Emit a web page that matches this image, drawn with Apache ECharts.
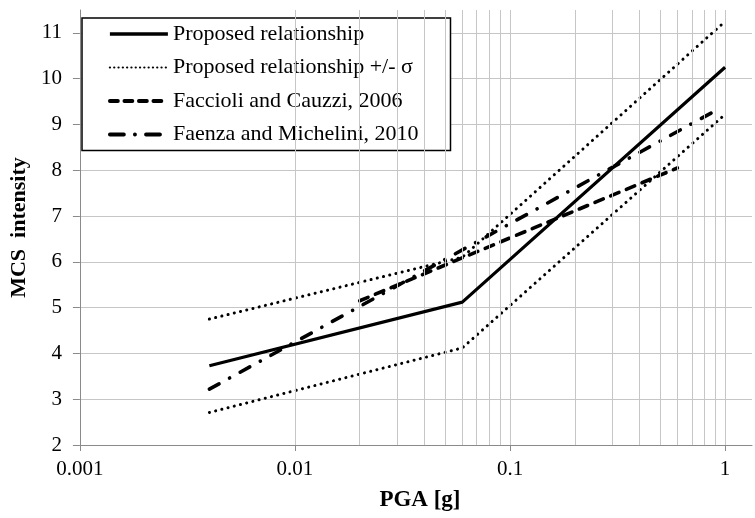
<!DOCTYPE html>
<html>
<head>
<meta charset="utf-8">
<script src="https://cdn.jsdelivr.net/npm/echarts@6/dist/echarts.min.js"></script>
<style>
html,body{margin:0;padding:0;background:#fff;}
#chart{width:755px;height:518px;}
</style>
</head>
<body>
<div id="chart"></div>
<script>
// ---- data ----
var pgaProposed = [0.004, 0.06, 1];
var mcsProposed = [3.73, 5.12, 10.25];
var mcsPlusSigma = [4.75, 6.1, 11.25];
var mcsMinusSigma = [2.71, 4.12, 9.22];
var pgaFaccioli = [0.02, 0.6];
var mcsFaccioli = [5.15, 8.05];
var pgaFaenza = [0.004, 0.9];
var mcsFaenza = [3.22, 9.3];

var xTicks = [0.001, 0.01, 0.1, 1];
var xTickLabels = ['0.001', '0.01', '0.1', '1'];
var yTicks = [2, 3, 4, 5, 6, 7, 8, 9, 10, 11];
var xGridLines = [0.002, 0.003, 0.004, 0.005, 0.006, 0.007, 0.008, 0.009, 0.01,
                  0.02, 0.03, 0.04, 0.05, 0.06, 0.07, 0.08, 0.09, 0.1,
                  0.2, 0.3, 0.4, 0.5, 0.6, 0.7, 0.8, 0.9, 1];

var seriesNames = ['Proposed relationship', 'Proposed relationship +/- \u03c3',
                   'Faccioli and Cauzzi, 2006', 'Faenza and Michelini, 2010'];

function zip(xs, ys) { return xs.map(function (x, i) { return [x, ys[i]]; }); }

var FONT = '"Liberation Serif", "Times New Roman", serif';
var GRID = '#c6c6c6';
var AXIS = '#8a8a8a';

var styles = [
  {color: '#000', width: 3.2, type: 'solid'},
  {color: '#000', width: 3, type: [0.1, 6.3], cap: 'round'},
  {color: '#000', width: 3.6, type: [9, 8], cap: 'round'},
  {color: '#000', width: 3.6, type: [11, 12, 0.1, 12], cap: 'round'}
];
var legendStyles = [
  {color: '#000', width: 3.6, type: 'solid'},
  {color: '#000', width: 2.2, type: [0.1, 4.2], cap: 'round'},
  {color: '#000', width: 3.8, type: [8, 6.5], cap: 'round'},
  {color: '#000', width: 3.8, type: [14, 11, 0.1, 11], cap: 'round'}
];

var chart = echarts.init(document.getElementById('chart'), null, {renderer: 'canvas'});

function labelFor(v) {
  for (var i = 0; i < xTicks.length; i++) {
    if (Math.abs(Math.log10(v) - Math.log10(xTicks[i])) < 1e-6) return xTickLabels[i];
  }
  return '';
}

var option = {
  animation: false,
  backgroundColor: '#fff',
  grid: {left: 76, right: 3, top: 10, bottom: 73, containLabel: false},
  legend: {
    show: true,
    orient: 'vertical',
    left: 82,
    top: 18,
    data: seriesNames.map(function (n, i) {
      return {name: n, lineStyle: legendStyles[i], itemStyle: {opacity: 0}};
    }),
    itemWidth: 58,
    itemHeight: 14,
    itemGap: 11.5,
    padding: [5, 32, 5, 26],
    backgroundColor: '#fff',
    borderColor: '#000',
    borderWidth: 1.5,
    borderRadius: 0,
    selectedMode: false,
    itemStyle: {opacity: 0},
    textStyle: {fontFamily: FONT, fontSize: 22, color: '#000', lineHeight: 22}
  },
  xAxis: {
    type: 'log',
    logBase: 10,
    min: 0.001,
    max: 1.334,
    name: 'PGA [g]',
    nameLocation: 'middle',
    nameGap: 44,
    nameTextStyle: {fontFamily: FONT, fontSize: 23, fontWeight: 'bold', color: '#000', padding: [0, 0, 0, 8]},
    axisLine: {show: true, lineStyle: {color: AXIS, width: 1}},
    axisTick: {show: true, inside: false, length: 6, lineStyle: {color: AXIS}, customValues: xTicks},
    axisLabel: {fontFamily: FONT, fontSize: 21, color: '#000', margin: 14, customValues: xTicks,
                formatter: function (v) { return labelFor(v); }},
    splitLine: {show: false},
    minorTick: {show: false},
    minorSplitLine: {show: false}
  },
  yAxis: {
    type: 'value',
    min: 2,
    max: 11.5,
    interval: 1,
    name: 'MCS  intensity',
    nameLocation: 'middle',
    nameGap: 47,
    nameTextStyle: {fontFamily: FONT, fontSize: 22, fontWeight: 'bold', color: '#000'},
    axisLine: {show: true, lineStyle: {color: AXIS, width: 1}},
    axisTick: {show: true, inside: false, length: 7, lineStyle: {color: AXIS}, customValues: yTicks},
    axisLabel: {fontFamily: FONT, fontSize: 21, color: '#000', margin: 18, customValues: yTicks,
                formatter: function (v) { return Number.isInteger(v) ? String(v) : ''; }},
    splitLine: {show: true, lineStyle: {color: GRID, width: 1}}
  },
  series: [
    {
      name: '__grid',
      type: 'line',
      z: 1,
      data: [[0.001, 2]],
      symbol: 'none',
      silent: true,
      lineStyle: {opacity: 0},
      markLine: {
        silent: true,
        symbol: 'none',
        animation: false,
        label: {show: false},
        lineStyle: {color: GRID, width: 1, type: 'solid'},
        emphasis: {disabled: true},
        data: xGridLines.map(function (v) { return {xAxis: v}; })
      }
    },
    {
      name: seriesNames[0], type: 'line', z: 5,
      data: zip(pgaProposed, mcsProposed),
      symbol: 'none', showSymbol: false,
      lineStyle: styles[0], itemStyle: {color: '#000'}
    },
    {
      name: seriesNames[1], type: 'line', z: 4,
      data: zip(pgaProposed, mcsPlusSigma),
      symbol: 'none', showSymbol: false,
      lineStyle: styles[1], itemStyle: {color: '#000'}
    },
    {
      name: seriesNames[1], type: 'line', z: 4,
      data: zip(pgaProposed, mcsMinusSigma),
      symbol: 'none', showSymbol: false,
      lineStyle: styles[1], itemStyle: {color: '#000'}
    },
    {
      name: seriesNames[2], type: 'line', z: 4,
      data: zip(pgaFaccioli, mcsFaccioli),
      symbol: 'none', showSymbol: false,
      lineStyle: styles[2], itemStyle: {color: '#000'}
    },
    {
      name: seriesNames[3], type: 'line', z: 4,
      data: zip(pgaFaenza, mcsFaenza),
      symbol: 'none', showSymbol: false,
      lineStyle: styles[3], itemStyle: {color: '#000'}
    }
  ]
};
chart.setOption(option);
</script>
</body>
</html>
